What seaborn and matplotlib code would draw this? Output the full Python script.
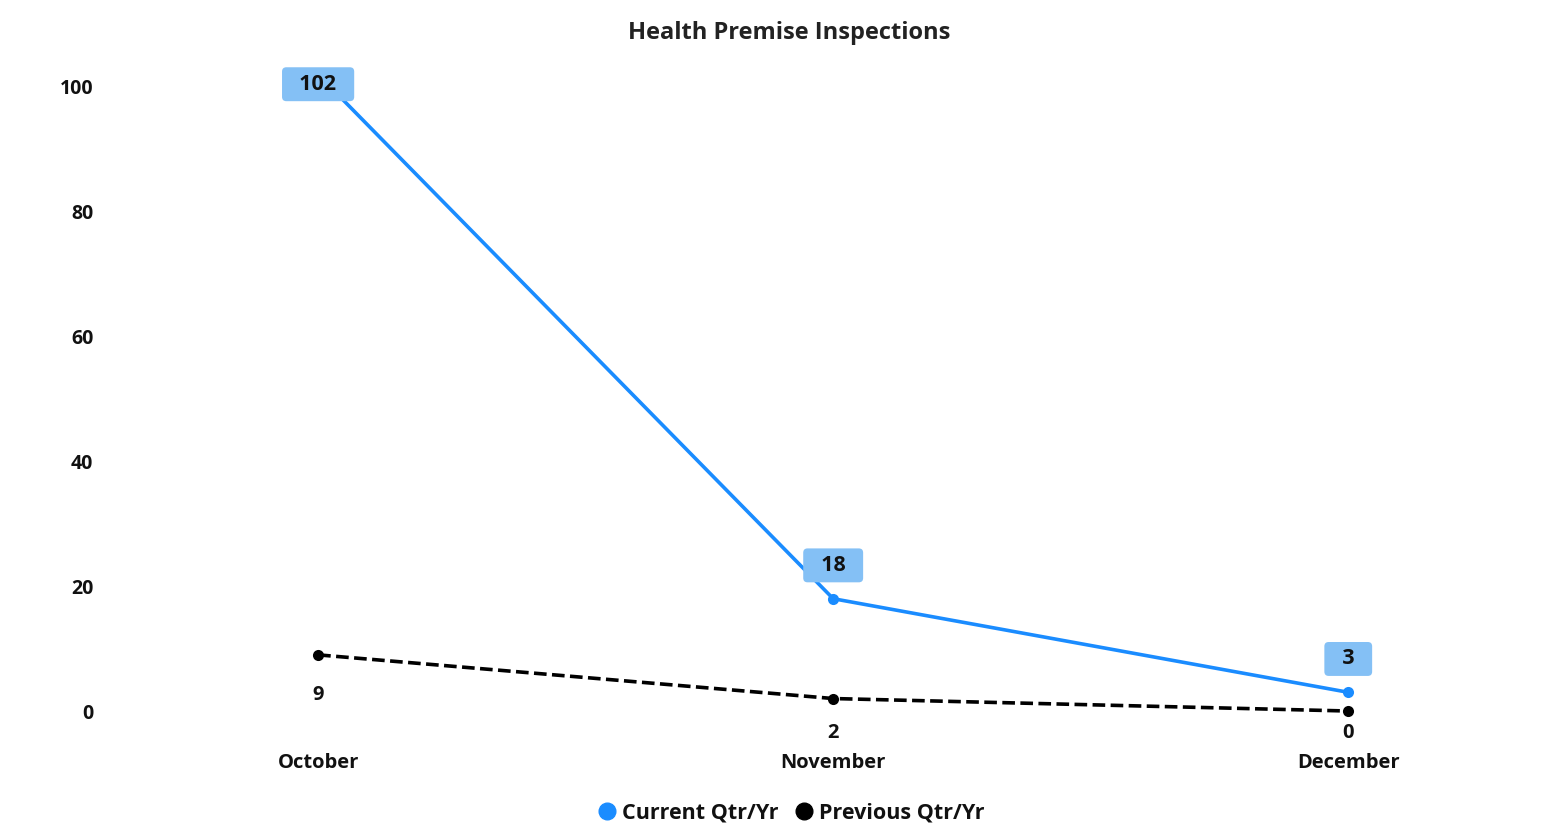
import matplotlib
matplotlib.use("Agg")
import matplotlib.pyplot as plt
import seaborn as sns
import pandas as pd
from matplotlib.lines import Line2D

months = ["October", "November", "December"]
current = [102, 18, 3]
previous = [9, 2, 0]
title = "Health Premise Inspections"
series_names = ["Current Qtr/Yr", "Previous Qtr/Yr"]
yticks = [0, 20, 40, 60, 80, 100]

sns.set_theme(style="white")
plt.rcParams["font.family"] = ["Open Sans", "DejaVu Sans"]

blue = "#1A8CFF"
box_blue = "#84C0F5"

fig = plt.figure(figsize=(15.54, 8.4), dpi=100)
ax = fig.add_axes([0.0708, 0.1164, 0.9138, 0.8172])

df = pd.DataFrame({
    "month": months * 2,
    "value": current + previous,
    "series": [series_names[0]] * 3 + [series_names[1]] * 3,
})
df["x"] = [0, 1, 2] * 2

sns.lineplot(data=df[df.series == series_names[0]], x="x", y="value", ax=ax,
             color=blue, linewidth=2.6, marker="o", markersize=8,
             markeredgewidth=0, legend=False)
sns.lineplot(data=df[df.series == series_names[1]], x="x", y="value", ax=ax,
             color="black", linewidth=2.6, linestyle=(0, (3.5, 1.5)), marker="o",
             markersize=8, markeredgewidth=0, legend=False)

# data labels
cur_offsets = [-7, 24, 24]
for i, v in enumerate(current):
    ax.annotate("  " + str(v) + "  ", (i, v), xytext=(0, cur_offsets[i]),
                textcoords="offset points",
                ha="center", va="center", fontsize=15.5, fontweight="bold", color="#111111",
                bbox=dict(boxstyle="round,pad=0.3,rounding_size=0.2", fc=box_blue, ec="none"))
prev_offsets = [-29, -25, -16]
for i, v in enumerate(previous):
    ax.annotate(str(v), (i, v), xytext=(0, prev_offsets[i]), textcoords="offset points",
                ha="center", va="center", fontsize=14.5, fontweight="bold", color="#111111")

ax.set_xlim(-0.404, 2.353)
ax.set_ylim(-5, 105)
ax.set_xticks([0, 1, 2])
ax.set_xticklabels(months)
ax.set_yticks(yticks)
ax.set_yticklabels([str(t) for t in yticks])
ax.tick_params(axis="x", length=0, pad=8, labelsize=14.5)
ax.tick_params(axis="y", length=0, pad=12, labelsize=14)
for lab in ax.get_xticklabels() + ax.get_yticklabels():
    lab.set_fontweight("bold")
    lab.set_color("#111111")
ax.set_xlabel("")
ax.set_ylabel("")
ax.grid(False)
for s in ax.spines.values():
    s.set_visible(False)

fig.text(0.508, 0.961, title, ha="center", va="center", fontsize=17,
         fontweight="bold", color="#222222")

handles = [Line2D([], [], marker="o", linestyle="", color=blue, markersize=12),
           Line2D([], [], marker="o", linestyle="", color="black", markersize=12)]
leg = fig.legend(handles, series_names, loc="center", bbox_to_anchor=(0.505, 0.032),
                 ncol=2, frameon=False, handletextpad=-0.3, columnspacing=0.2,
                 prop={"weight": "bold", "size": 15.5})
for t in leg.get_texts():
    t.set_color("#111111")

fig.savefig("out.png", dpi=100, facecolor="white")
